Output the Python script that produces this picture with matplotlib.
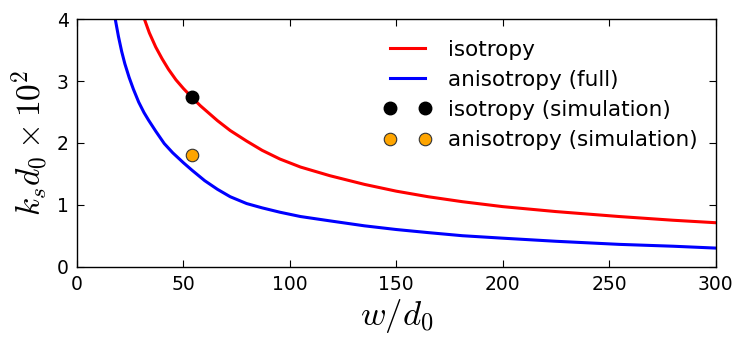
import matplotlib
matplotlib.use("Agg")
import matplotlib.pyplot as plt

plt.rcParams['mathtext.fontset'] = 'cm'
plt.rcParams['font.family'] = ['DejaVu Sans']

# isotropy (theory)
iso_w = [31.7, 34.0, 37.0, 40.0, 43.0, 46.5, 50.0, 53.9, 58.0, 62.0, 66.0, 72.0, 79.7,
         87.0, 95.3, 105.0, 118.8, 135.0, 150.0, 165.0, 181.0, 200.0, 225.0, 254.7, 280.0, 300.0]
iso_k = [4.00, 3.78, 3.55, 3.36, 3.19, 3.02, 2.88, 2.74, 2.60, 2.48, 2.36, 2.20, 2.03,
         1.88, 1.74, 1.61, 1.47, 1.33, 1.22, 1.13, 1.05, 0.97, 0.89, 0.81, 0.75, 0.71]

# anisotropy (full)
ani_w = [18.0, 19.5, 21.0, 22.5, 24.5, 26.5, 29.0, 31.5, 33.6, 37.0, 41.0, 45.0, 50.0,
         54.0, 60.0, 66.0, 72.0, 79.7, 87.0, 95.3, 105.0, 118.8, 135.0, 150.0, 165.0,
         181.0, 200.0, 225.0, 254.7, 280.0, 300.0]
ani_k = [4.00, 3.72, 3.48, 3.28, 3.06, 2.87, 2.66, 2.49, 2.37, 2.19, 1.99, 1.84, 1.68,
         1.56, 1.39, 1.25, 1.13, 1.02, 0.95, 0.88, 0.81, 0.74, 0.66, 0.60, 0.55,
         0.50, 0.46, 0.41, 0.36, 0.33, 0.30]

# simulations
sim_iso_w = [53.9]
sim_iso_k = [2.74]
sim_ani_w = [53.9]
sim_ani_k = [1.81]

fig = plt.figure(figsize=(7.47, 3.49), dpi=100)
ax = fig.add_axes([0.103, 0.236, 0.855, 0.709])

ax.plot(iso_w, iso_k, color='red', lw=2.2, label='isotropy')
ax.plot(ani_w, ani_k, color='blue', lw=2.2, label='anisotropy (full)')
ax.plot(sim_iso_w, sim_iso_k, 'o', color='black', ms=9, label='isotropy (simulation)')
ax.plot(sim_ani_w, sim_ani_k, 'o', color='orange', mec='#333333', mew=0.8, ms=9,
        label='anisotropy (simulation)')

ax.set_xlim(0, 300)
ax.set_ylim(0, 4)
ax.set_xticks([0, 50, 100, 150, 200, 250, 300])
ax.set_yticks([0, 1, 2, 3, 4])
ax.tick_params(direction='in', top=True, right=True, labelsize=13.5, length=5, pad=6)
for s in ax.spines.values():
    s.set_linewidth(1.0)

ax.set_xlabel(r'$w/d_0$', fontsize=25, labelpad=2)
ax.set_ylabel(r'$k_s d_0 \times 10^2$', fontsize=24, labelpad=4)

ax.legend(loc='upper right', bbox_to_anchor=(0.996, 0.978), frameon=False, numpoints=2,
          fontsize=15.5, handlelength=2.2, handletextpad=0.8, labelspacing=0.47,
          borderpad=0.2)

fig.savefig('out.png', dpi=100)
